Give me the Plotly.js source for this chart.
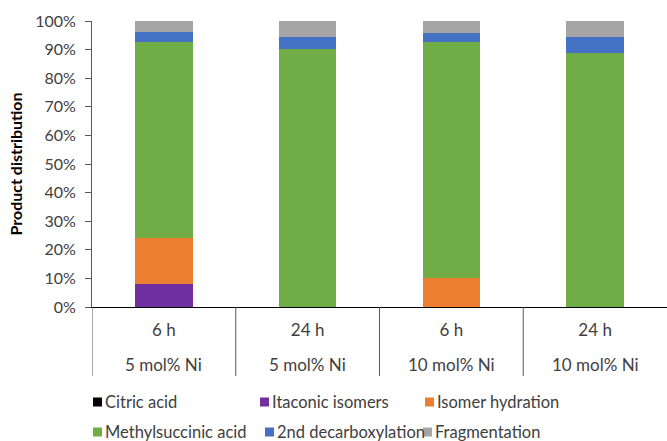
<!DOCTYPE html>
<html>
<head>
<meta charset="utf-8">
<script src="https://cdn.plot.ly/plotly-3.0.1.min.js"></script>
<style>html,body{margin:0;padding:0;background:#fff;}#chart{width:667px;height:441px;}</style>
</head>
<body>
<div id="chart"></div>
<script>
const times = ["6 h", "24 h", "6 h", "24 h"];
const loadings = ["5 mol% Ni", "5 mol% Ni", "10 mol% Ni", "10 mol% Ni"];
const seriesNames = ["Citric acid", "Itaconic isomers", "Isomer hydration", "Methylsuccinic acid", "2nd decarboxylation", "Fragmentation"];
const citricAcid = [0, 0, 0, 0];
const itaconicIsomers = [8, 0, 0, 0];
const isomerHydration = [16, 0, 10, 0];
const methylsuccinicAcid = [68.5, 90.2, 82.8, 88.7];
const secondDecarboxylation = [3.5, 4.3, 3.1, 5.8];
const fragmentation = [4, 5.5, 4.1, 5.5];
const colors = ["#000000", "#7030A0", "#ED7D31", "#70AD47", "#4472C4", "#A5A5A5"];

const W = 667, H = 441;
const M = {l: 92, r: 0, t: 21, b: 134};
const PW = W - M.l - M.r, PH = H - M.t - M.b;
const px2x = p => (p - M.l) / PW;
const py2y = p => (H - M.b - p) / PH;

const xIdx = times.map((t, i) => i);
const values = [citricAcid, itaconicIsomers, isomerHydration, methylsuccinicAcid, secondDecarboxylation, fragmentation];

const traces = values.map((v, k) => ({
  type: "bar",
  name: seriesNames[k],
  x: xIdx,
  y: v,
  marker: {color: colors[k], line: {width: 0}},
  hoverinfo: "name+y"
}));

const FAM = "Lato, 'Open Sans', sans-serif";
const catFont = {family: FAM, size: 17, color: "#404040"};

const shapes = [-0.5, 0.5, 1.5, 2.5].map(p => ({
  type: "line", xref: "x", yref: "paper", ysizemode: "pixel", yanchor: 0,
  x0: p, x1: p, y0: 0, y1: -69,
  line: {color: "#595959", width: 1}
}));

const annotations = loadings.map((l, i) => ({
  text: l, x: i, xref: "x", y: 0, yref: "paper", yanchor: "middle",
  yshift: -57, showarrow: false, font: catFont
}));

// custom legend: 3 columns x 2 rows
const legColX = [93, 260, 425];
const legColX2 = [93, 265, 423];
const legRowY = [402, 432];
seriesNames.forEach((n, k) => {
  const row = Math.floor(k / 3), col = k % 3;
  const mx = (row === 0 ? legColX : legColX2)[col];
  const my = legRowY[row];
  shapes.push({
    type: "rect", xref: "paper", yref: "paper",
    xsizemode: "pixel", ysizemode: "pixel",
    xanchor: px2x(mx), yanchor: py2y(my),
    x0: 0, x1: 9, y0: -4.5, y1: 4.5,
    fillcolor: colors[k], line: {width: 0}
  });
  annotations.push({
    text: n, xref: "paper", yref: "paper", x: px2x(mx + 11), y: py2y(my),
    xanchor: "left", yanchor: "middle", showarrow: false, borderpad: 0,
    font: {family: FAM, size: 16.5, color: "#404040"}
  });
});

const layout = {
  width: W, height: H,
  margin: M,
  barmode: "stack",
  bargap: 0.6,
  paper_bgcolor: "#fff", plot_bgcolor: "#fff",
  font: catFont,
  showlegend: false,
  xaxis: {
    type: "linear", range: [-0.5, 3.5],
    tickmode: "array", tickvals: xIdx, ticktext: times,
    ticks: "", showgrid: false, zeroline: false,
    showline: true, linecolor: "#000", linewidth: 1,
    tickfont: catFont, ticklabelstandoff: 8, fixedrange: true
  },
  yaxis: {
    range: [0, 100], dtick: 10, ticksuffix: "%",
    showgrid: false, zeroline: false,
    showline: true, linecolor: "#595959", linewidth: 1,
    ticks: "outside", ticklen: 6, tickcolor: "#595959",
    ticklabelstandoff: 6,
    tickfont: {family: FAM, size: 16, color: "#404040"},
    title: {text: "<b>Product distribution</b>", font: {family: FAM, size: 16, color: "#000"}, standoff: 8},
    fixedrange: true
  },
  shapes: shapes,
  annotations: annotations
};

Plotly.newPlot("chart", traces, layout, {displayModeBar: false, staticPlot: true});
</script>
</body>
</html>
